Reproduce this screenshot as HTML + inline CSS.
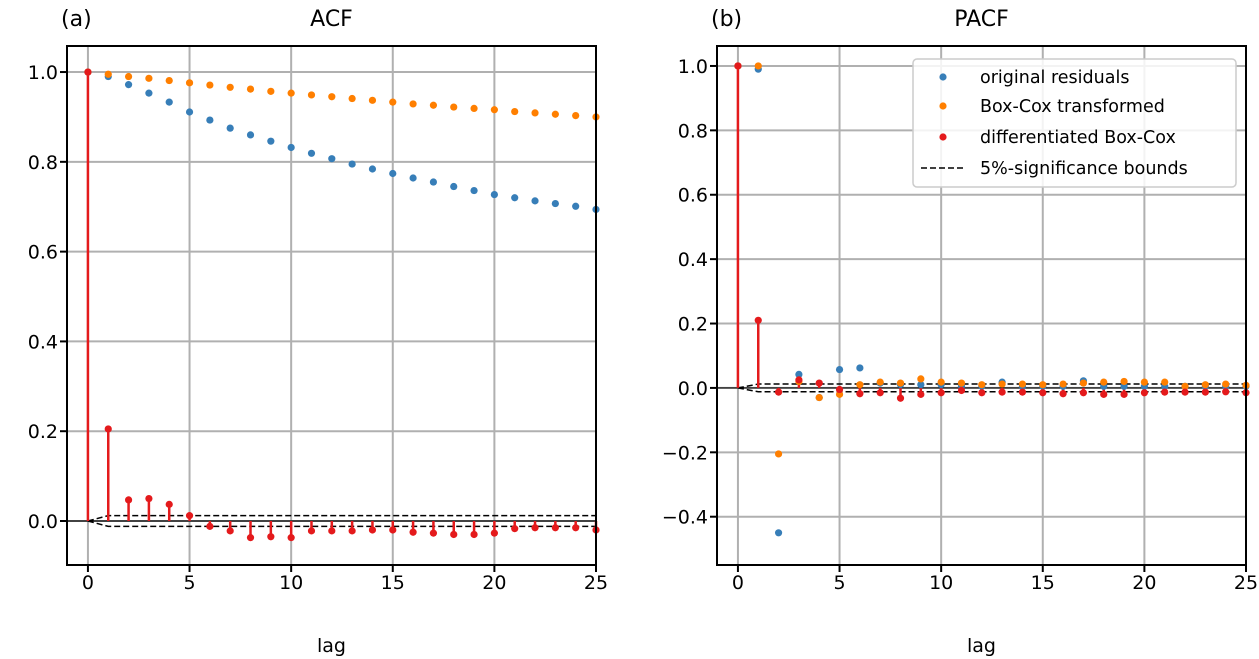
<!DOCTYPE html>
<html><head><meta charset="utf-8"><style>
body{margin:0;background:#fff}
svg{display:block;font-family:"DejaVu Sans","Liberation Sans",sans-serif}
</style></head><body>
<svg id="c" width="1259" height="659" viewBox="0 0 1259 659"></svg>
<script>
const lags=[0,1,2,3,4,5,6,7,8,9,10,11,12,13,14,15,16,17,18,19,20,21,22,23,24,25];
const acfOrig=[1,.99,.972,.953,.933,.911,.893,.875,.86,.846,.832,.819,.807,.795,.784,.774,.764,.755,.745,.736,.727,.72,.713,.707,.701,.694];
const acfBox=[1,.995,.99,.986,.981,.976,.971,.966,.962,.957,.953,.949,.945,.941,.937,.933,.929,.926,.922,.919,.916,.912,.909,.906,.903,.9];
const acfDiff=[1,.205,.047,.05,.037,.012,-.012,-.022,-.037,-.035,-.037,-.022,-.022,-.022,-.02,-.02,-.025,-.027,-.03,-.03,-.027,-.017,-.015,-.015,-.015,-.02];
const pacfOrig=[1,.99,-.45,.042,-.03,.057,.062,.015,.01,.01,.01,.005,.005,.018,.005,.005,.005,.022,.005,.005,.005,.005,.005,.005,.005,.005];
const pacfBox=[1,1.0,-.205,.02,-.03,-.02,.01,.018,.015,.028,.018,.015,.01,.012,.012,.01,.012,.015,.018,.02,.018,.018,.005,.01,.012,.008];
const pacfDiff=[1,.21,-.013,.025,.015,-.005,-.018,-.015,-.032,-.02,-.015,-.008,-.015,-.013,-.013,-.015,-.018,-.015,-.02,-.02,-.015,-.013,-.013,-.013,-.012,-.015];
const bound=0.012;
const xTicks=[0,5,10,15,20,25];
const acfYTicks=[0,0.2,0.4,0.6,0.8,1.0];
const pacfYTicks=[-0.4,-0.2,0,0.2,0.4,0.6,0.8,1.0];
const C={b:'#377eb8',o:'#ff7f00',r:'#e41a1c'};
const svg=document.getElementById('c');
const NS='http://www.w3.org/2000/svg';
function mk(tag,at,parent){const e=document.createElementNS(NS,tag);for(const k in at)e.setAttribute(k,at[k]);(parent||svg).appendChild(e);return e;}
function fmt(v){const s=v.toFixed(1);return v<0?'\u2212'+s.slice(1):s;}
function panel(p){
  const g=mk('g',{});
  
  
  const X=v=>p.x0+(v-p.xmin)/(p.xmax-p.xmin)*(p.x1-p.x0);
  const Y=v=>p.y1-(v-p.ymin)/(p.ymax-p.ymin)*(p.y1-p.y0);
  xTicks.forEach(t=>{const l=mk('line',{x1:X(t),x2:X(t),y1:p.y0,y2:p.y1,stroke:'#b0b0b0','stroke-width':2},g);
    mk('line',{x1:X(t),x2:X(t),y1:p.y1,y2:p.y1+7,stroke:'#000','stroke-width':2},g);
    const tx=mk('text',{x:X(t),y:p.y1+24,'text-anchor':'middle','font-size':19},g);tx.textContent=t;});
  p.yt.forEach(t=>{const l=mk('line',{x1:p.x0,x2:p.x1,y1:Y(t),y2:Y(t),stroke:'#b0b0b0','stroke-width':2},g);
    mk('line',{x1:p.x0-7,x2:p.x0,y1:Y(t),y2:Y(t),stroke:'#000','stroke-width':2},g);
    const tx=mk('text',{x:p.x0-9,y:Y(t)+7,'text-anchor':'end','font-size':19},g);tx.textContent=fmt(t);});
  mk('line',{x1:p.x0,x2:p.x1,y1:Y(0),y2:Y(0),stroke:'#000','stroke-width':1.2},g);
  const bu=mk('path',{d:`M${X(0)},${Y(0)} L${X(1)},${Y(bound)} L${p.x1},${Y(bound)}`,fill:'none',stroke:'#000','stroke-width':1.5,'stroke-dasharray':'6,3'},g);
  
  const bl=mk('path',{d:`M${X(0)},${Y(0)} L${X(1)},${Y(-bound)} L${p.x1},${Y(-bound)}`,fill:'none',stroke:'#000','stroke-width':1.5,'stroke-dasharray':'6,3'},g);
  
  lags.forEach((l,i)=>{const s=mk('line',{x1:X(l),x2:X(l),y1:Y(0),y2:Y(p.d[i]),stroke:C.r,'stroke-width':2.5},g);});
  [[p.a,C.b,'original-point'],[p.o,C.o,'boxcox-point'],[p.d,C.r,'diff-point']].forEach(([arr,col,nm])=>{
    lags.forEach((l,i)=>{const c=mk('circle',{cx:X(l),cy:Y(arr[i]),r:3.6,fill:col},g);});});
  mk('rect',{x:p.x0,y:p.y0,width:p.x1-p.x0,height:p.y1-p.y0,fill:'none',stroke:'#000','stroke-width':2},g);
  const ti=mk('text',{x:(p.x0+p.x1)/2,y:26,'text-anchor':'middle','font-size':22},g);ti.textContent=p.title;
  const lb=mk('text',{x:p.x0-6,y:26,'font-size':22},g);lb.textContent=p.lab;
  const xl=mk('text',{x:(p.x0+p.x1)/2,y:652,'text-anchor':'middle','font-size':19},g);xl.textContent='lag';
}
panel({name:'acf',x0:67,x1:596,y0:46,y1:565,xmin:-1.03,xmax:25,ymin:-0.098,ymax:1.058,yt:acfYTicks,a:acfOrig,o:acfBox,d:acfDiff,title:'ACF',lab:'(a)'});
panel({name:'pacf',x0:717,x1:1246,y0:46,y1:565,xmin:-1.03,xmax:25,ymin:-0.55,ymax:1.062,yt:pacfYTicks,a:pacfOrig,o:pacfBox,d:pacfDiff,title:'PACF',lab:'(b)'});
const lg=mk('g',{});


mk('rect',{x:913,y:59,width:323,height:128,rx:4,fill:'#fff','fill-opacity':0.85,stroke:'#ccc','stroke-width':1.5},lg);
[['original residuals',C.b,77],['Box-Cox transformed',C.o,106],['differentiated Box-Cox',C.r,137]].forEach(([t,c,y])=>{
  mk('circle',{cx:943,cy:y,r:3.6,fill:c},lg);
  const tx=mk('text',{x:980,y:y+6,'font-size':17.5},lg);tx.textContent=t;});
mk('line',{x1:921,x2:963,y1:168,y2:168,stroke:'#000','stroke-width':1.5,'stroke-dasharray':'6,3'},lg);
const t4=mk('text',{x:980,y:174,'font-size':17.5},lg);t4.textContent='5%-significance bounds';


</script>
</body></html>
